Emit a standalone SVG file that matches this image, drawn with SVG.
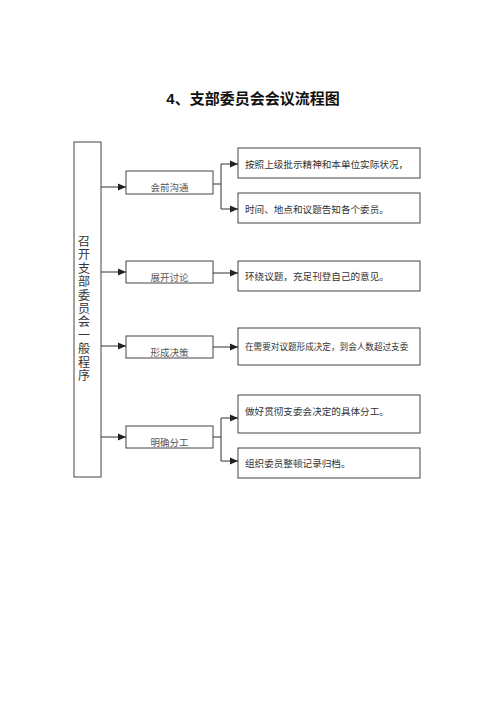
<svg xmlns="http://www.w3.org/2000/svg" width="500" height="706" viewBox="0 0 500 706">
<defs>
<marker id="ah" viewBox="0 0 8 8" refX="8" refY="4" markerWidth="8" markerHeight="8" markerUnits="userSpaceOnUse" orient="auto">
<path d="M0,0.5 L8,4 L0,7.5 Z" fill="#222"/>
</marker>
</defs>
<style>
.box{fill:#fff;stroke:#444;stroke-width:1}
.ln{fill:none;stroke:#333;stroke-width:1}
.arr{fill:none;stroke:#333;stroke-width:1;marker-end:url(#ah)}
.mid{font-family:"Noto Sans CJK SC","Liberation Serif",serif;font-size:9.5px;fill:#555;text-anchor:middle}
.rt{font-family:"Noto Sans CJK SC",serif;font-size:9.6px;fill:#333}
.sm{font-size:8.6px}
.title{font-family:"Liberation Sans","Noto Sans CJK SC",sans-serif;font-size:15px;font-weight:bold;fill:#111;text-anchor:middle}
.vt{font-family:"Noto Sans CJK SC",sans-serif;font-size:12px;fill:#333;text-anchor:middle}
</style>
<rect width="500" height="706" fill="#fff"/>
<text class="title" x="253" y="104">4、支部委员会会议流程图</text>
<g id="main">
<rect class="box" x="74" y="142" width="27" height="335"/>
<text class="vt" x="84" y="246"><tspan x="84">召</tspan><tspan x="84" dy="13.4">开</tspan><tspan x="84" dy="13.4">支</tspan><tspan x="84" dy="13.4">部</tspan><tspan x="84" dy="13.4">委</tspan><tspan x="84" dy="13.4">员</tspan><tspan x="84" dy="13.4">会</tspan><tspan x="84" dy="13.4">一</tspan><tspan x="84" dy="13.4">般</tspan><tspan x="84" dy="13.4">程</tspan><tspan x="84" dy="13.4">序</tspan></text>
</g>
<g id="step1"><rect class="box" x="126" y="171" width="87" height="23"/><text class="mid" x="169.5" y="191">会前沟通</text></g>
<g id="step2"><rect class="box" x="126" y="261" width="87" height="22"/><text class="mid" x="169.5" y="281">展开讨论</text></g>
<g id="step3"><rect class="box" x="126" y="336" width="87" height="22"/><text class="mid" x="169.5" y="356">形成决策</text></g>
<g id="step4"><rect class="box" x="126" y="426" width="87" height="22"/><text class="mid" x="169.5" y="446">明确分工</text></g>
<g id="r1"><rect class="box" x="238" y="148" width="182" height="30"/><text class="rt" x="245" y="168">按照上级批示精神和本单位实际状况，</text></g>
<g id="r2"><rect class="box" x="238" y="193" width="182" height="30"/><text class="rt" x="245" y="213">时间、地点和议题告知各个委员。</text></g>
<g id="r3"><rect class="box" x="238" y="261" width="182" height="30"/><text class="rt" x="245" y="280">环绕议题，充足刊登自己的意见。</text></g>
<g id="r4"><rect class="box" x="238" y="328" width="182" height="37"/><text class="rt sm" x="245" y="350">在需要对议题形成决定，到会人数超过支委</text></g>
<g id="r5"><rect class="box" x="238" y="395" width="182" height="38"/><text class="rt" x="245" y="415">做好贯彻支委会决定的具体分工。</text></g>
<g id="r6"><rect class="box" x="238" y="448" width="182" height="30"/><text class="rt" x="245" y="467">组织委员整顿记录归档。</text></g>
<g id="connectors">
<line class="arr" x1="101" y1="187" x2="126" y2="187"/>
<line class="arr" x1="101" y1="272" x2="126" y2="272"/>
<line class="arr" x1="101" y1="346" x2="126" y2="346"/>
<line class="arr" x1="101" y1="437" x2="126" y2="437"/>
<polyline class="ln" points="213,184 221,184"/>
<polyline class="arr" points="221,184 221,164 238,164"/>
<polyline class="arr" points="221,184 221,209 238,209"/>
<line class="arr" x1="213" y1="273" x2="238" y2="273"/>
<line class="arr" x1="213" y1="347" x2="238" y2="347"/>
<polyline class="ln" points="213,437 221,437"/>
<polyline class="arr" points="221,437 221,418 238,418"/>
<polyline class="arr" points="221,437 221,461 238,461"/>
</g>
</svg>
